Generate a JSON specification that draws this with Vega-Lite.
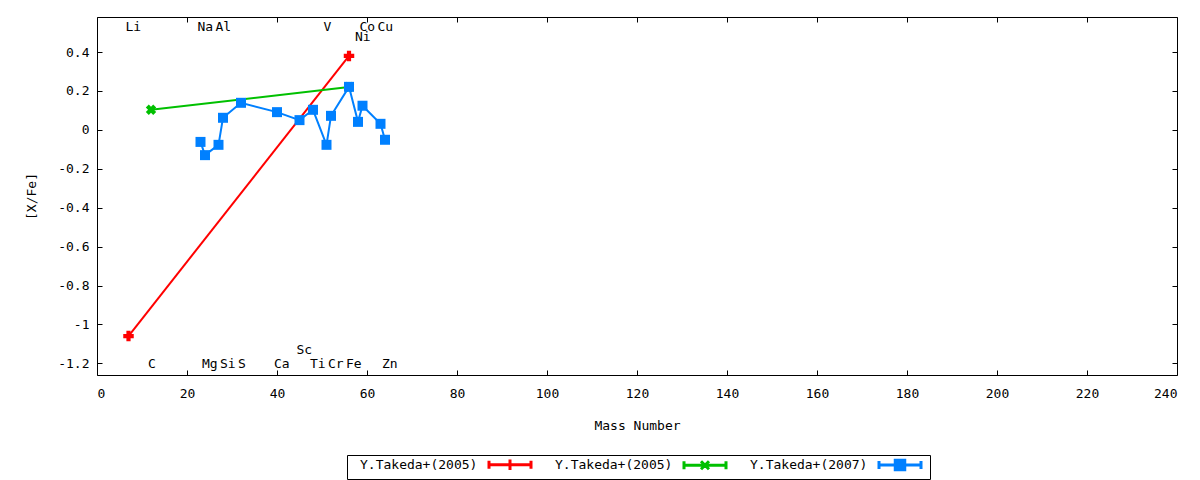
{
  "$schema": "https://vega.github.io/schema/vega-lite/v6.json",
  "width": 1080,
  "height": 358,
  "autosize": {"type": "none"},
  "padding": {"left": 97, "top": 17, "right": 23, "bottom": 105},
  "background": "white",
  "config": {
    "font": "DejaVu Sans Mono",
    "view": {"stroke": "black", "strokeWidth": 1},
    "axis": {
      "domain": false,
      "grid": false,
      "tickSize": -5,
      "tickColor": "black",
      "labelFont": "DejaVu Sans Mono",
      "labelFontSize": 13,
      "labelColor": "black",
      "labelPadding": 10,
      "titleFont": "DejaVu Sans Mono",
      "titleFontSize": 13,
      "titleFontWeight": "normal",
      "titleColor": "black"
    },
    "text": {"font": "DejaVu Sans Mono", "fontSize": 13, "color": "black"}
  },
  "datasets": {
    "takeda": [
      {"series": "A", "mass": 7, "xfe": -1.06},
      {"series": "A", "mass": 56, "xfe": 0.38},
      {"series": "B", "mass": 12, "xfe": 0.103},
      {"series": "B", "mass": 56, "xfe": 0.22},
      {"series": "C", "mass": 23, "xfe": -0.062},
      {"series": "C", "mass": 24, "xfe": -0.13},
      {"series": "C", "mass": 27, "xfe": -0.077},
      {"series": "C", "mass": 28, "xfe": 0.062},
      {"series": "C", "mass": 32, "xfe": 0.139},
      {"series": "C", "mass": 40, "xfe": 0.091},
      {"series": "C", "mass": 45, "xfe": 0.05},
      {"series": "C", "mass": 48, "xfe": 0.103},
      {"series": "C", "mass": 51, "xfe": -0.077},
      {"series": "C", "mass": 52, "xfe": 0.072},
      {"series": "C", "mass": 56, "xfe": 0.221},
      {"series": "C", "mass": 58, "xfe": 0.041},
      {"series": "C", "mass": 59, "xfe": 0.124},
      {"series": "C", "mass": 63, "xfe": 0.031},
      {"series": "C", "mass": 64, "xfe": -0.051}
    ],
    "elements": [
      {"el": "Li", "mass": 7, "row": "top"},
      {"el": "Na", "mass": 23, "row": "top"},
      {"el": "Al", "mass": 27, "row": "top"},
      {"el": "V", "mass": 51, "row": "top"},
      {"el": "Co", "mass": 59, "row": "top"},
      {"el": "Cu", "mass": 63, "row": "top"},
      {"el": "Ni", "mass": 58, "row": "top2"},
      {"el": "C", "mass": 12, "row": "bottom"},
      {"el": "Mg", "mass": 24, "row": "bottom"},
      {"el": "Si", "mass": 28, "row": "bottom"},
      {"el": "S", "mass": 32, "row": "bottom"},
      {"el": "Ca", "mass": 40, "row": "bottom"},
      {"el": "Ti", "mass": 48, "row": "bottom"},
      {"el": "Cr", "mass": 52, "row": "bottom"},
      {"el": "Fe", "mass": 56, "row": "bottom"},
      {"el": "Zn", "mass": 64, "row": "bottom"},
      {"el": "Sc", "mass": 45, "row": "bottom2"}
    ]
  },
  "layer": [
    {
      "layer": [
        {
          "data": {"name": "takeda"},
          "transform": [{"filter": "datum.series == 'A'"}],
          "mark": {"type": "line", "strokeWidth": 2},
          "encoding": {
            "x": {
              "field": "mass", "type": "quantitative",
              "scale": {"domain": [0, 240], "nice": false, "zero": false},
              "axis": {"title": "Mass Number", "values": [0, 20, 40, 60, 80, 100, 120, 140, 160, 180, 200, 220, 240], "labelPadding": 17, "titlePadding": 19}
            },
            "y": {
              "field": "xfe", "type": "quantitative",
              "scale": {"domain": [-1.26, 0.58], "nice": false, "zero": false},
              "axis": {"title": "[X/Fe]", "values": [-1.2, -1, -0.8, -0.6, -0.4, -0.2, 0, 0.2, 0.4], "labelExpr": "datum.value + ''", "labelPadding": 13, "titlePadding": 19}
            },
            "color": {
              "field": "series", "type": "nominal",
              "scale": {"domain": ["A", "B", "C"], "range": ["#ff0000", "#00c000", "#0080ff"]},
              "legend": {
                "orient": "none",
                "legendX": 250,
                "legendY": 438,
                "direction": "horizontal",
                "title": null,
                "padding": 3,
                "strokeColor": "black",
                "labelFont": "DejaVu Sans Mono",
                "labelFontSize": 13,
                "labelColor": "black",
                "labelLimit": 0,
                "symbolSize": 100,
                "columnPadding": 8,
                "labelExpr": "datum.value == 'C' ? 'Y.Takeda+(2007)' : 'Y.Takeda+(2005)'",
                "encode": {
                  "symbols": {
                    "update": {
                      "shape": {"signal": "datum.value == 'A' ? 'M-4.2,0H4.2M-4.2,-0.8V0.8M4.2,-0.8V0.8M0,-1.05V1.05' : datum.value == 'B' ? 'M-4.2,0H4.2M-4.2,-0.8V0.8M4.2,-0.8V0.8M-0.8,-0.8L0.8,0.8M-0.8,0.8L0.8,-0.8' : 'M-4.2,0H4.2M-4.2,-0.8V0.8M4.2,-0.8V0.8M-0.95,-0.95H0.95V0.95H-0.95Z'"},
                      "stroke": {"scale": "color", "field": "value"},
                      "fill": {"scale": "color", "field": "value"},
                      "strokeWidth": {"value": 3},
                      "opacity": {"value": 1},
                      "x": {"value": 160}
                    }
                  },
                  "labels": {"update": {"x": {"value": 10}}}
                }
              }
            }
          }
        },
        {
          "data": {"name": "takeda"},
          "transform": [{"filter": "datum.series == 'A'"}],
          "mark": {"type": "point", "shape": "cross", "filled": true, "size": 110, "opacity": 1},
          "encoding": {
            "x": {"field": "mass", "type": "quantitative"},
            "y": {"field": "xfe", "type": "quantitative"},
            "color": {"field": "series", "type": "nominal"}
          }
        },
        {
          "data": {"name": "takeda"},
          "transform": [{"filter": "datum.series == 'B'"}],
          "mark": {"type": "line", "strokeWidth": 2},
          "encoding": {
            "x": {"field": "mass", "type": "quantitative"},
            "y": {"field": "xfe", "type": "quantitative"},
            "color": {"field": "series", "type": "nominal"}
          }
        },
        {
          "data": {"name": "takeda"},
          "transform": [{"filter": "datum.series == 'B'"}],
          "mark": {"type": "point", "shape": "cross", "angle": 45, "filled": true, "size": 110, "opacity": 1},
          "encoding": {
            "x": {"field": "mass", "type": "quantitative"},
            "y": {"field": "xfe", "type": "quantitative"},
            "color": {"field": "series", "type": "nominal"}
          }
        },
        {
          "data": {"name": "takeda"},
          "transform": [{"filter": "datum.series == 'C'"}],
          "mark": {"type": "line", "strokeWidth": 2},
          "encoding": {
            "x": {"field": "mass", "type": "quantitative"},
            "y": {"field": "xfe", "type": "quantitative"},
            "color": {"field": "series", "type": "nominal"}
          }
        },
        {
          "data": {"name": "takeda"},
          "transform": [{"filter": "datum.series == 'C'"}],
          "mark": {"type": "point", "shape": "square", "filled": true, "size": 100, "opacity": 1},
          "encoding": {
            "x": {"field": "mass", "type": "quantitative"},
            "y": {"field": "xfe", "type": "quantitative"},
            "color": {"field": "series", "type": "nominal"}
          }
        },
        {
          "data": {"name": "elements"},
          "transform": [{"filter": "datum.row == 'top2'"}],
          "mark": {"type": "text", "align": "left", "baseline": "middle", "dx": -3},
          "encoding": {
            "x": {"field": "mass", "type": "quantitative"},
            "y": {"datum": 0.477, "type": "quantitative"},
            "text": {"field": "el"}
          }
        },
        {
          "data": {"name": "elements"},
          "transform": [{"filter": "datum.row == 'bottom'"}],
          "mark": {"type": "text", "align": "left", "baseline": "middle", "dx": -3},
          "encoding": {
            "x": {"field": "mass", "type": "quantitative"},
            "y": {"datum": -1.201, "type": "quantitative"},
            "text": {"field": "el"}
          }
        },
        {
          "data": {"name": "elements"},
          "transform": [{"filter": "datum.row == 'bottom2'"}],
          "mark": {"type": "text", "align": "left", "baseline": "middle", "dx": -3},
          "encoding": {
            "x": {"field": "mass", "type": "quantitative"},
            "y": {"datum": -1.129, "type": "quantitative"},
            "text": {"field": "el"}
          }
        }
      ]
    },
    {
      "data": {"name": "elements"},
      "transform": [{"filter": "datum.row == 'top'"}],
      "mark": {"type": "text", "align": "left", "baseline": "middle", "dx": -3},
      "encoding": {
        "x": {
          "field": "mass", "type": "quantitative",
          "axis": {"orient": "top", "labels": false, "title": null, "values": [0, 20, 40, 60, 80, 100, 120, 140, 160, 180, 200, 220, 240]}
        },
        "y": {
          "datum": 0.529, "type": "quantitative",
          "axis": {"orient": "right", "labels": false, "title": null, "values": [-1.2, -1, -0.8, -0.6, -0.4, -0.2, 0, 0.2, 0.4]}
        },
        "text": {"field": "el"}
      }
    }
  ],
  "resolve": {"axis": {"x": "independent", "y": "independent"}}
}
